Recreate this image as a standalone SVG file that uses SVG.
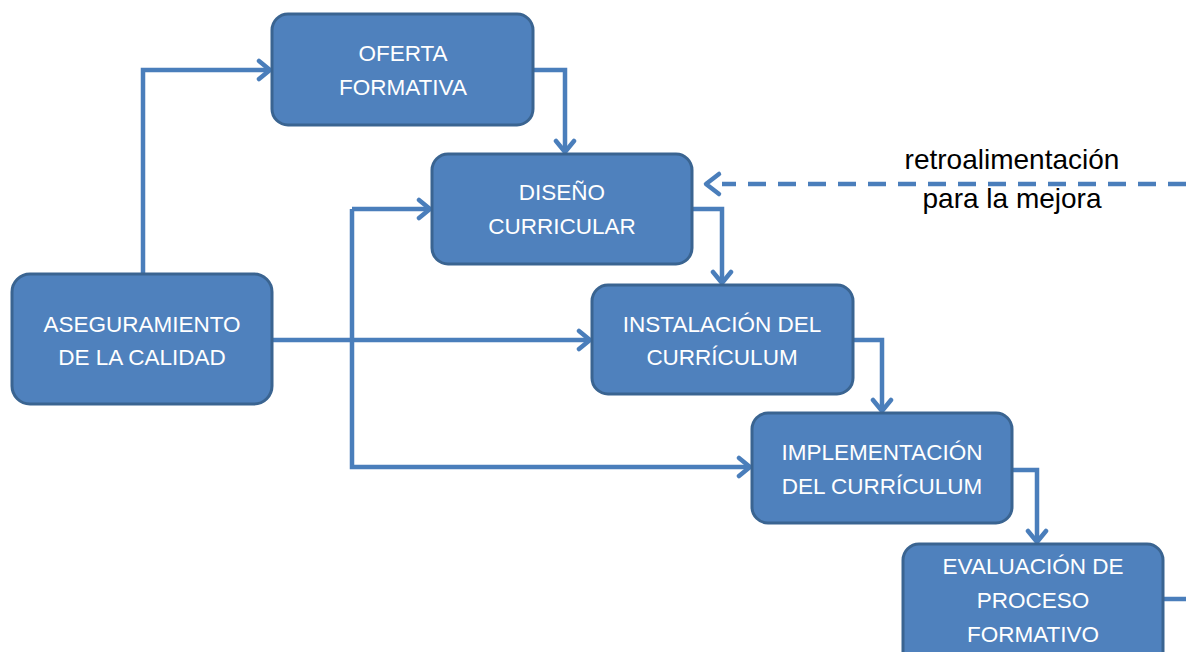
<svg xmlns="http://www.w3.org/2000/svg" width="1186" height="652" viewBox="0 0 1186 652">
<style>
.box{fill:#4F81BD;stroke:#3A6491;stroke-width:3}
.t{font-family:"Liberation Sans",Arial,sans-serif;font-size:22.5px;fill:#fff;text-anchor:middle}
.c{fill:none;stroke:#4A7EBB;stroke-width:4.5}
.d{fill:none;stroke:#4A7EBB;stroke-width:4.5;stroke-dasharray:18 12}
.l{font-family:"Liberation Sans",Arial,sans-serif;font-size:28px;fill:#000;text-anchor:middle}
</style>
<defs>
<marker id="a" viewBox="0 0 16 24" refX="14" refY="12" markerWidth="16" markerHeight="24" markerUnits="userSpaceOnUse" orient="auto">
<polyline points="3,3 14,12 3,21" fill="none" stroke="#4A7EBB" stroke-width="4.5" stroke-linecap="round" stroke-linejoin="round"/>
</marker>
</defs>
<g id="connectors">
<polyline class="c" points="143,274 143,70 270,70" marker-end="url(#a)"/>
<polyline class="c" points="533,70 565,70 565,152" marker-end="url(#a)"/>
<polyline class="c" points="692,209 722,209 722,283" marker-end="url(#a)"/>
<polyline class="c" points="853,340 882,340 882,411" marker-end="url(#a)"/>
<polyline class="c" points="1012,470 1037,470 1037,542" marker-end="url(#a)"/>
<line class="c" x1="1163" y1="599" x2="1186" y2="599"/>
<polyline class="c" points="272,340 590,340" marker-end="url(#a)"/>
<polyline class="c" points="352,209 352,467 750,467" marker-end="url(#a)"/>
<polyline class="c" points="352,209 430,209" marker-end="url(#a)"/>
<line class="d" x1="1186" y1="184" x2="722" y2="184"/>
<polyline points="719,174 706,184 719,194" fill="none" stroke="#4A7EBB" stroke-width="4.5" stroke-linecap="round" stroke-linejoin="round"/>
</g>
<g id="n-oferta"><rect class="box" x="272" y="14" width="261" height="111" rx="16"/><text class="t" x="403" y="61">OFERTA</text><text class="t" x="403" y="95">FORMATIVA</text></g>
<g id="n-diseno"><rect class="box" x="432" y="154" width="260" height="110" rx="16"/><text class="t" x="562" y="200">DISEÑO</text><text class="t" x="562" y="234">CURRICULAR</text></g>
<g id="n-aseg"><rect class="box" x="12" y="274" width="260" height="130" rx="18"/><text class="t" x="142" y="332">ASEGURAMIENTO</text><text class="t" x="142" y="365">DE LA CALIDAD</text></g>
<g id="n-inst"><rect class="box" x="592" y="285" width="261" height="109" rx="16"/><text class="t" x="722" y="332">INSTALACIÓN DEL</text><text class="t" x="722" y="365">CURRÍCULUM</text></g>
<g id="n-impl"><rect class="box" x="752" y="413" width="260" height="110" rx="16"/><text class="t" x="882" y="460">IMPLEMENTACIÓN</text><text class="t" x="882" y="494">DEL CURRÍCULUM</text></g>
<g id="n-eval"><rect class="box" x="903" y="544" width="260" height="125" rx="16"/><text class="t" x="1033" y="574">EVALUACIÓN DE</text><text class="t" x="1033" y="608">PROCESO</text><text class="t" x="1033" y="642">FORMATIVO</text></g>
<g id="label"><text class="l" x="1012" y="169">retroalimentación</text><text class="l" x="1012" y="208">para la mejora</text></g>
</svg>
